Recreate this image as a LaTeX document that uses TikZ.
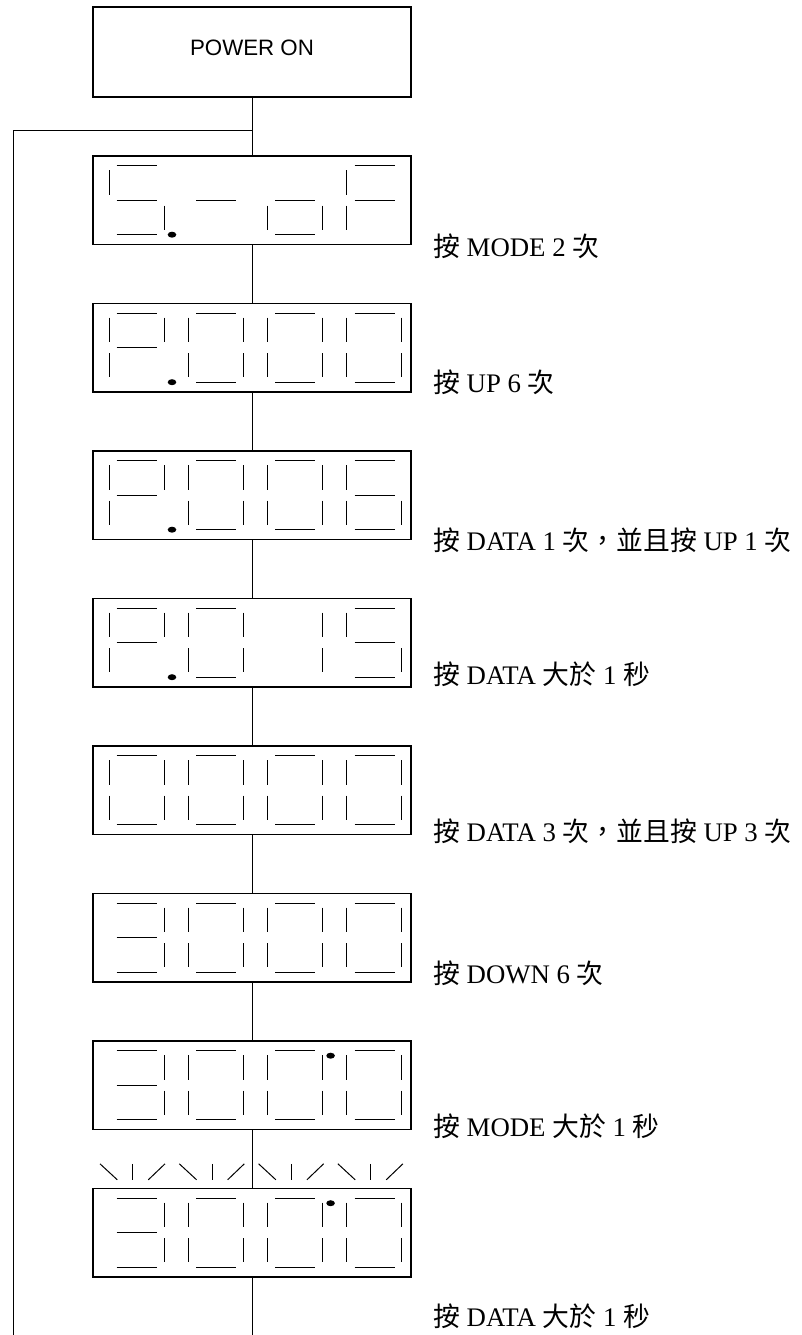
\documentclass[tikz,border=0pt]{standalone}
\usepackage{fontspec}
\setmainfont{Liberation Serif}
\newfontfamily\cjk{Noto Sans CJK TC}
\newfontfamily\arialf{Liberation Sans}
\tikzset{
  seg/.style={line width=1pt, line cap=butt},
  dispbox/.style={draw, line width=1.1pt, minimum width=318pt, minimum height=88.5pt, inner sep=0pt, outer sep=0pt},
  powbox/.style={draw, line width=1.1pt, minimum width=318pt, minimum height=90pt, inner sep=0pt, outer sep=0pt, text height=15.75pt, text depth=9pt, font=\arialf\fontsize{22.3}{26}\selectfont},
  conn/.style={line width=1pt},
  lbl/.style={anchor=base west, inner sep=0pt, font=\fontsize{26.8}{30}\selectfont}
}
\newcommand\segA{\draw[seg] (23.7,9.7) -- (63.7,9.7);}
\newcommand\segB{\draw[seg] (71,14) -- (71,38.7);}
\newcommand\segC{\draw[seg] (71,49.7) -- (71,73.7);}
\newcommand\segD{\draw[seg] (23.7,78.7) -- (63.7,78.7);}
\newcommand\segE{\draw[seg] (16,49.7) -- (16,73.7);}
\newcommand\segF{\draw[seg] (16,14) -- (16,38.7);}
\newcommand\segG{\draw[seg] (23.7,44) -- (63.7,44);}
\newcommand\dgt[3]{\begin{scope}[shift={(93+79.3*#1,#2)}]#3\end{scope}}
\newcommand\dZero{\segA\segB\segC\segD\segE\segF}
\newcommand\dP{\segA\segB\segF\segG\segE}
\newcommand\dFive{\segA\segF\segG\segC\segD}
\newcommand\dThree{\segA\segB\segG\segC\segD}
\newcommand\dSix{\segA\segF\segG\segE\segC\segD}
\newcommand\dOne{\segB\segC}
\newcommand\botdot[1]{\fill (172,#1+78.7) ellipse [x radius=4.3pt, y radius=3pt];}
\newcommand\topdot[1]{\fill (330.6,#1+14.7) ellipse [x radius=4.3pt, y radius=3pt];}
\newcommand\rays[2]{\begin{scope}[shift={(93+79.3*#1,#2)}]
  \draw[seg] (7,-24.7) -- (24.3,-8.7);
  \draw[seg] (39.7,-24.7) -- (39.7,-8.7);
  \draw[seg] (55.3,-8.7) -- (72,-24.7);
\end{scope}}
\begin{document}
\begin{tikzpicture}[x=1pt,y=-1pt]
\useasboundingbox (0,0) rectangle (801,1335);
% boxes
\node[powbox] (pw) at (252,52) {POWER ON};
\node[dispbox] (d1) at (252,200.25) {};
\node[dispbox] (d2) at (252,347.75) {};
\node[dispbox] (d3) at (252,495.25) {};
\node[dispbox] (d4) at (252,642.75) {};
\node[dispbox] (d5) at (252,790.25) {};
\node[dispbox] (d6) at (252,937.75) {};
\node[dispbox] (d7) at (252,1085.25) {};
\node[dispbox] (d8) at (252,1232.75) {};
% connectors
\coordinate (j) at (252,131);
\coordinate (lb) at (13,1335);
\coordinate (endc) at (252,1335);
\draw[conn] (pw.south) -- (d1.north);
\draw[conn] (j) -| (lb);
\draw[conn] (d1.south) -- (d2.north);
\draw[conn] (d2.south) -- (d3.north);
\draw[conn] (d3.south) -- (d4.north);
\draw[conn] (d4.south) -- (d5.north);
\draw[conn] (d5.south) -- (d6.north);
\draw[conn] (d6.south) -- (d7.north);
\draw[conn] (d7.south) -- (d8.north);
\draw[conn] (d8.south) -- (endc);
% display 1: 5.-oF
\dgt{0}{156}{\dFive}
\dgt{1}{156}{\segG}
\dgt{2}{156}{\segG\segE\segC\segD}
\dgt{3}{156}{\segA\segF\segG\segE}
\botdot{156}
% display 2: P.000
\dgt{0}{303.5}{\dP}
\dgt{1}{303.5}{\dZero}
\dgt{2}{303.5}{\dZero}
\dgt{3}{303.5}{\dZero}
\botdot{303.5}
% display 3: P.006
\dgt{0}{451}{\dP}
\dgt{1}{451}{\dZero}
\dgt{2}{451}{\dZero}
\dgt{3}{451}{\dSix}
\botdot{451}
% display 4: P.015
\dgt{0}{598.5}{\dP}
\dgt{1}{598.5}{\dZero}
\dgt{2}{598.5}{\dOne}
\dgt{3}{598.5}{\dFive}
\botdot{598.5}
% display 5: 0000
\dgt{0}{746}{\dZero}
\dgt{1}{746}{\dZero}
\dgt{2}{746}{\dZero}
\dgt{3}{746}{\dZero}
% display 6: 3000
\dgt{0}{893.5}{\dThree}
\dgt{1}{893.5}{\dZero}
\dgt{2}{893.5}{\dZero}
\dgt{3}{893.5}{\dZero}
% display 7
\dgt{0}{1041}{\dThree}
\dgt{1}{1041}{\dZero}
\dgt{2}{1041}{\dZero}
\dgt{3}{1041}{\dZero}
\topdot{1041}
% display 8: blinking
\dgt{0}{1188.5}{\dThree}
\dgt{1}{1188.5}{\dZero}
\dgt{2}{1188.5}{\dZero}
\dgt{3}{1188.5}{\dZero}
\topdot{1188.5}
\rays{0}{1188.5}
\rays{1}{1188.5}
\rays{2}{1188.5}
\rays{3}{1188.5}
% labels
\node[lbl] (l1) at (433,256) {{\cjk 按} MODE 2 {\cjk 次}};
\node[lbl] (l2) at (433,392) {{\cjk 按} UP 6 {\cjk 次}};
\node[lbl] (l3) at (433,550) {{\cjk 按} DATA 1 {\cjk 次，並且按} UP 1 {\cjk 次}};
\node[lbl] (l4) at (433,684) {{\cjk 按} DATA {\cjk 大於} 1 {\cjk 秒}};
\node[lbl] (l5) at (433,841) {{\cjk 按} DATA 3 {\cjk 次，並且按} UP 3 {\cjk 次}};
\node[lbl] (l6) at (433,983) {{\cjk 按} DOWN 6 {\cjk 次}};
\node[lbl] (l7) at (433,1136) {{\cjk 按} MODE {\cjk 大於} 1 {\cjk 秒}};
\node[lbl] (l8) at (433,1326) {{\cjk 按} DATA {\cjk 大於} 1 {\cjk 秒}};
\end{tikzpicture}
\end{document}
